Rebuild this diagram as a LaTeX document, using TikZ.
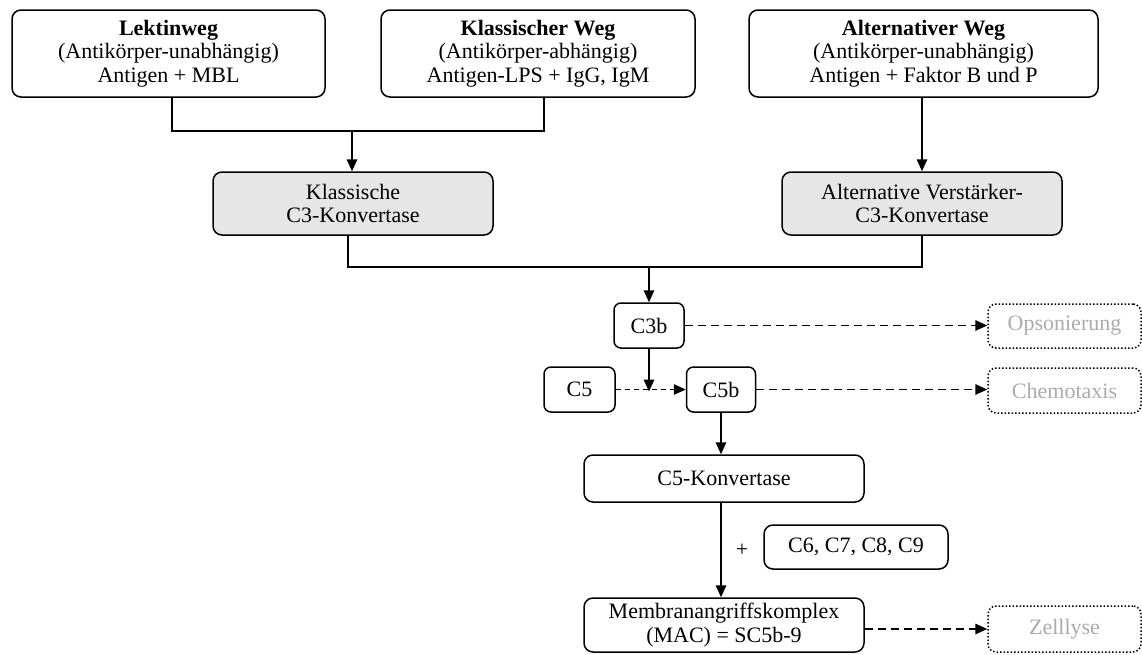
\documentclass[tikz,border=0pt]{standalone}
\usepackage{fontspec}
\setmainfont{Liberation Serif}
\usetikzlibrary{arrows.meta}
\definecolor{convfill}{HTML}{E6E6E6}
\definecolor{effecttext}{HTML}{ABABAB}
\begin{document}
\begin{tikzpicture}[x=1pt,y=-1pt,
  every node/.style={font=\fontsize{22}{23.5}\selectfont},
  box/.style={draw, line width=1.5pt, rounded corners=9pt, align=center,
    inner sep=0pt},
  conv/.style={box, fill=convfill},
  effect/.style={draw, line width=1.5pt, dotted, rounded corners=8pt,
    text=effecttext, inner sep=0pt},
  line/.style={line width=1.6pt},
  tip/.style={-{Triangle[length=12pt,width=10.5pt]}},
  arr/.style={line, tip},
  dasharr/.style={line, dash pattern=on 8pt off 5pt, tip},
  dashline/.style={line width=1.3pt, dash pattern=on 5pt off 4pt, tip}]
\useasboundingbox (0,0) rectangle (1142,654);

% pathway entry points
\node[box, minimum width=313pt, minimum height=87pt] (lek) at (168.5,53.5)
  {\textbf{Lektinweg}\\(Antikörper-unabhängig)\\Antigen + MBL};
\node[box, minimum width=314pt, minimum height=87pt] (kla) at (538,53.5)
  {\textbf{Klassischer Weg}\\(Antikörper-abhängig)\\Antigen-LPS + IgG, IgM};
\node[box, minimum width=349pt, minimum height=87pt] (alt) at (923.5,53.5)
  {\textbf{Alternativer Weg}\\(Antikörper-unabhängig)\\Antigen + Faktor B und P};

% C3 convertases
\node[conv, minimum width=280pt, minimum height=63pt] (kc) at (353,203.5)
  {Klassische\\C3-Konvertase};
\node[conv, minimum width=280pt, minimum height=63pt] (ac) at (922,203.5)
  {Alternative Verstärker-\\C3-Konvertase};

% cascade
\node[box, rounded corners=7pt, minimum width=70pt, minimum height=45pt] (c3b) at (649,325.5) {C3b};
\node[box, rounded corners=7pt, minimum width=71pt, minimum height=45pt] (c5) at (579.5,389.5) {C5};
\node[box, rounded corners=7pt, minimum width=69pt, minimum height=45pt] (c5b) at (721,389.5) {C5b};
\node[box, minimum width=280pt, minimum height=47pt] (c5k) at (724,478.5) {C5-Konvertase};
\node[box, minimum width=184pt, minimum height=44pt] (c69) at (856,547) {C6, C7, C8, C9};
\node (plus) at (742,550) {+};
\node[box, minimum width=280pt, minimum height=54pt] (mac) at (724,625)
  {Membranangriffskomplex\\(MAC) = SC5b-9};

% effector functions
\node[effect, minimum width=153pt, minimum height=44pt] (ops) at (1064.5,326) {Opsonierung};
\node[effect, minimum width=153pt, minimum height=45pt] (chem) at (1064.5,390.5) {Chemotaxis};
\node[effect, minimum width=153pt, minimum height=46pt] (zel) at (1064.5,629) {Zelllyse};

% joins of the pathways
\coordinate (j1) at (352,131);
\draw[line] ([xshift=3.5pt]lek.south) |- ([xshift=6pt]kla.south |- j1) -- ([xshift=6pt]kla.south);
\draw[arr] (j1) -- (j1 |- kc.north);
\draw[arr] (alt.south -| ac.north) -- (ac.north);

\coordinate (j2) at (649,267);
\draw[line] ([xshift=-5pt]kc.south) |- (ac.south |- j2) -- (ac.south);
\draw[arr] (j2) -- (c3b.north);

% cascade connectors
\draw[dasharr] (c3b.east) -- (c3b.east -| ops.west);
\draw[arr] (c3b.south) -- ([yshift=-2pt]c3b.south |- c5.east);
\draw[dashline] (c5.east) -- (c5b.west);
\draw[dasharr] (c5b.east) -- (c5b.east -| chem.west);
\draw[arr] (c5b.south) -- (c5b.south |- c5k.north);
\draw[arr] (c5b.south |- c5k.south) -- (c5b.south |- mac.north);
\draw[dasharr] (zel.west -| mac.east) -- (zel.west);
\end{tikzpicture}
\end{document}
